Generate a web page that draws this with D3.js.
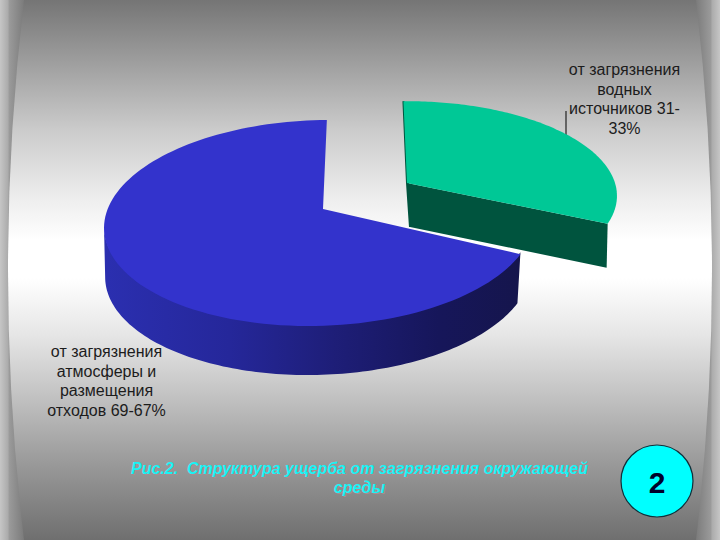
<!DOCTYPE html>
<html><head><meta charset="utf-8">
<style>html,body{margin:0;padding:0;background:#fff;overflow:hidden}svg{display:block}</style>
<script src="https://cdn.jsdelivr.net/npm/d3@7"></script></head><body>
<script>
const sliceKeys = ["water", "air"];
const sliceValues = [32, 68];
const waterLabel = ["от загрязнения", "водных", "источников 31-", "33%"];
const airLabel = ["от загрязнения", "атмосферы и", "размещения", "отходов 69-67%"];
const captionLines = ["Рис.2.  Структура ущерба от загрязнения окружающей", "среды"];
const pageNumber = "2";

const W = 720, H = 540;
const svg = d3.select("body").append("svg").attr("width", W).attr("height", H);
const defs = svg.append("defs");
function grad(id, attrs, stops) {
  const g = defs.append("linearGradient").attr("id", id).attr("gradientUnits", "userSpaceOnUse");
  Object.entries(attrs).forEach(([k, v]) => g.attr(k, v));
  stops.forEach(([o, c]) => g.append("stop").attr("offset", o).attr("stop-color", c));
}
grad("bgV", {x1:0,y1:0,x2:0,y2:H}, [[0,"#757575"],[0.09,"#959595"],[0.24,"#cbcbcb"],[0.37,"#eeeeee"],[0.445,"#ffffff"],[0.515,"#ffffff"],[0.62,"#e6e6e6"],[0.74,"#c0c0c0"],[0.85,"#9c9c9c"],[1,"#6f6f6f"]]);
grad("bandL", {x1:0,y1:0,x2:26,y2:0}, [[0,"#c6c6c6"],[0.3,"#acacac"],[0.36,"#9a9a9a"],[1,"#777777"]]);
grad("bandR", {x1:720,y1:0,x2:694,y2:0}, [[0,"#c6c6c6"],[0.3,"#acacac"],[0.36,"#9a9a9a"],[1,"#777777"]]);
grad("blueSide", {x1:104,y1:0,x2:522,y2:0}, [[0,"#2b2fb0"],[0.3,"#25279a"],[0.55,"#1e1e78"],[0.8,"#16165a"],[1,"#15154c"]]);

// page frame
svg.append("rect").attr("width", W/2).attr("height", H).attr("fill", "url(#bandL)");
svg.append("rect").attr("x", W/2).attr("width", W/2).attr("height", H).attr("fill", "url(#bandR)");
const frame = d3.path();
frame.moveTo(24, 0); frame.quadraticCurveTo(-8, H/2, 24, H);
frame.lineTo(696, H); frame.quadraticCurveTo(728, H/2, 696, 0); frame.closePath();
svg.append("path").attr("d", frame.toString()).attr("fill", "url(#bgV)");

// perspective pie
const views = {
  water: {ax:407, ay:183, cx:406, rot:-0.8*Math.PI/180, R:209, k:93, p:.136, t:0, depth:44, bx:409, shrink:.98, fill:"#00c896", side:"#00543e"},
  air:   {ax:323, ay:209, cx:319, rot:2.4*Math.PI/180, R:213, k:101, p:.136, t:5, depth:49, bx:318, shrink:.99, fill:"#3333cc", side:"url(#blueSide)"}
};
function project(v, a, bottom) {
  const th = a + v.rot, w = 1 + v.p * Math.cos(th);
  const x = v.cx + v.R * Math.sin(th) / w;
  const y = v.ay - (v.k * Math.cos(th) + v.t * Math.sin(th)) / w;
  if (!bottom) return [x, y];
  return [v.bx + (x - v.cx) * v.shrink, y + v.depth];
}
const arcs = d3.pie().sort(null).value(d => d)(sliceValues);
const line = d3.line();
const steps = (a, b) => d3.range(0, 121).map(i => a + (b - a) * i / 120);
const apex = (v, bottom) => bottom ? [v.bx + (v.ax - v.cx) * v.shrink, v.ay + v.depth] : [v.ax, v.ay];
const pieG = svg.append("g");

// leader line, behind the slice
pieG.append("line").attr("x1", 566).attr("y1", 111).attr("x2", 566).attr("y2", 138).attr("stroke", "#222").attr("stroke-width", 1.2);

// air slice (arcs[1]) side and top
{
  const v = views.air, d = arcs[1];
  const visEnd = 2 * Math.PI * 262.2 / 360 - v.rot;
  const top = steps(d.startAngle, visEnd).map(a => { const q = project(v, a); return [q[0], q[1] - 2]; });
  const bot = steps(d.startAngle, visEnd).map(a => project(v, a, true)).reverse();
  pieG.append("path").attr("d", line(top.concat(bot)) + "Z").attr("fill", v.side);
  pieG.append("path").attr("d", line([apex(v)].concat(steps(d.startAngle, d.endAngle).map(a => project(v, a)))) + "Z").attr("fill", v.fill);
}
// water slice (arcs[0]) sides and top
{
  const v = views.water, d = arcs[0];
  const a0 = d.startAngle, a1 = d.endAngle;
  pieG.append("path").attr("d", line([apex(v), project(v, a0), project(v, a0, true), apex(v, true)]) + "Z")
    .attr("fill", v.side).attr("stroke", v.side).attr("stroke-width", 2);
  pieG.append("path").attr("d", line([apex(v), project(v, a1), project(v, a1, true), apex(v, true)]) + "Z").attr("fill", v.side);
  pieG.append("path").attr("d", line([apex(v)].concat(steps(a0, a1).map(a => project(v, a)))) + "Z").attr("fill", v.fill);
}

// labels
function block(lines, x, y, lh) {
  const t = svg.append("text").attr("font-family", "Liberation Sans, Arial, sans-serif").attr("font-size", 16)
    .attr("fill", "#1c1c1c").attr("text-anchor", "middle");
  lines.forEach((s, i) => t.append("tspan").attr("x", x).attr("y", y + i * lh).text(s));
}
block(waterLabel, 624.5, 75, 19.6);
block(airLabel, 106.5, 357, 19.6);

// caption
const cap = svg.append("g").attr("font-family", "Liberation Sans, Arial, sans-serif").attr("font-size", 16)
  .attr("font-weight", "bold").attr("font-style", "italic").attr("text-anchor", "middle");
captionLines.forEach((s, i) => {
  cap.append("text").attr("x", 360.5).attr("y", 475 + i * 19).attr("fill", "#b08a90").style("white-space", "pre").text(s);
  cap.append("text").attr("x", 359.5).attr("y", 474 + i * 19).attr("fill", "#19f3f5").style("white-space", "pre").text(s);
});

// page badge
svg.append("circle").attr("cx", 657).attr("cy", 481).attr("r", 36).attr("fill", "#00ffff").attr("stroke", "#10303a").attr("stroke-width", 1.2);
svg.append("text").attr("x", 657).attr("y", 493).attr("text-anchor", "middle").attr("font-family", "Liberation Sans, Arial, sans-serif")
  .attr("font-weight", "bold").attr("font-size", 30).attr("fill", "#00002a").text(pageNumber);
</script></body></html>
